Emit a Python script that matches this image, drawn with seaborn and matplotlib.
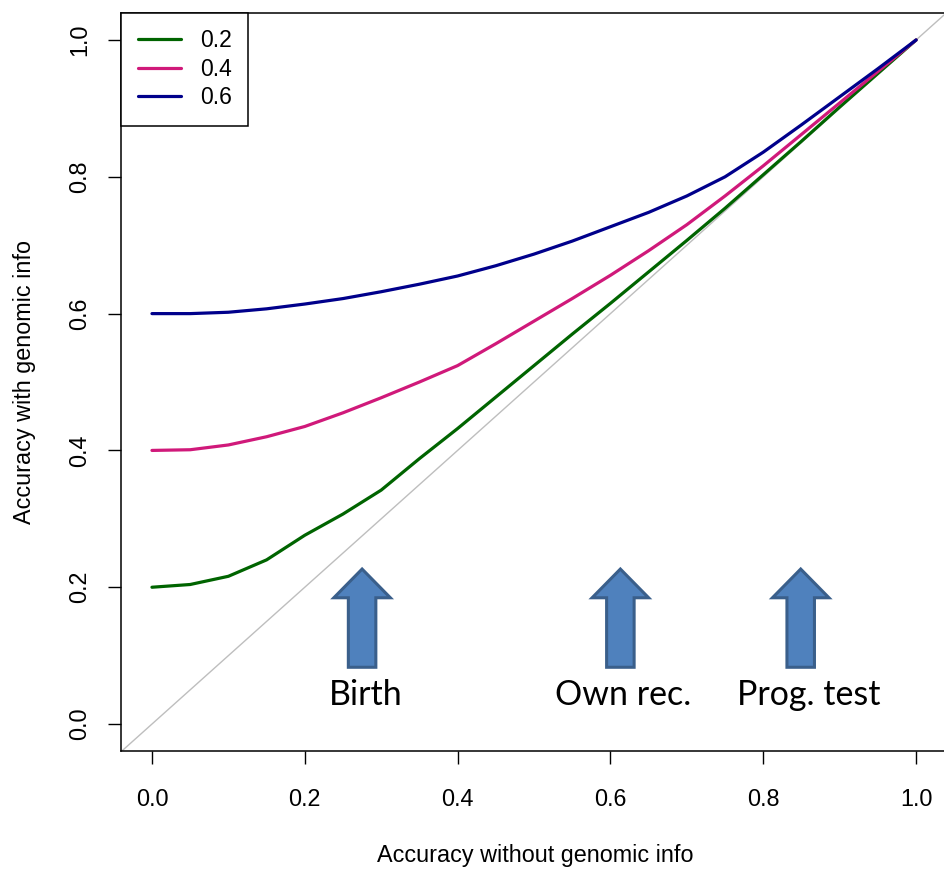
import numpy as np
import pandas as pd
import matplotlib
matplotlib.use("Agg")
import matplotlib.pyplot as plt
from matplotlib.patches import FancyArrow
import seaborn as sns

# Data
acc_without = [0.00, 0.05, 0.10, 0.15, 0.20, 0.25, 0.30, 0.35, 0.40, 0.45, 0.50,
               0.55, 0.60, 0.65, 0.70, 0.75, 0.80, 0.85, 0.90, 0.95, 1.00]
acc_g02 = [0.200, 0.204, 0.216, 0.240, 0.276, 0.307, 0.342, 0.388, 0.432, 0.478, 0.524,
           0.570, 0.615, 0.661, 0.707, 0.754, 0.803, 0.852, 0.902, 0.951, 1.000]
acc_g04 = [0.400, 0.401, 0.408, 0.420, 0.435, 0.455, 0.477, 0.500, 0.524, 0.556, 0.589,
           0.622, 0.656, 0.692, 0.730, 0.772, 0.816, 0.862, 0.908, 0.954, 1.000]
acc_g06 = [0.600, 0.600, 0.602, 0.607, 0.614, 0.622, 0.632, 0.643, 0.655, 0.670, 0.687,
           0.706, 0.727, 0.748, 0.772, 0.800, 0.836, 0.876, 0.917, 0.958, 1.000]
series_labels = ["0.2", "0.4", "0.6"]
series_colors = ["#006400", "#D0197A", "#00008B"]

stage_labels = ["Birth", "Own rec.", "Prog. test"]
stage_x = [0.275, 0.613, 0.849]
label_x = [0.280, 0.617, 0.859]

df = pd.DataFrame({
    "without": acc_without * 3,
    "with": acc_g02 + acc_g04 + acc_g06,
    "g": [lab for lab in series_labels for _ in acc_without],
})

sns.set_style("white")
plt.rcParams["font.family"] = ["Liberation Sans", "DejaVu Sans"]
plt.rcParams["text.color"] = "black"
plt.rcParams["axes.labelcolor"] = "black"
plt.rcParams["xtick.color"] = "black"
plt.rcParams["ytick.color"] = "black"

fig = plt.figure(figsize=(9.44, 8.71), dpi=100)
ax = fig.add_axes([0.1286, 0.1373, 0.8742, 0.8482])

# diagonal reference line
ax.plot([-0.04, 1.04], [-0.04, 1.04], color="#BEBEBE", lw=1.0, zorder=1)

sns.lineplot(data=df, x="without", y="with", hue="g", palette=series_colors,
             linewidth=2.3, ax=ax, zorder=3)

ax.set_xlim(-0.04, 1.04)
ax.set_ylim(-0.04, 1.04)
ticks = [0.0, 0.2, 0.4, 0.6, 0.8, 1.0]
ax.set_xticks(ticks)
ax.set_xticklabels([f"{t:.1f}" for t in ticks])
ax.set_yticks(ticks)
ax.set_yticklabels([f"{t:.1f}" for t in ticks])
ax.tick_params(axis="both", direction="out", length=9.5, width=1.0, color="black",
               labelcolor="black", labelsize=16.8, left=True, bottom=True)
ax.tick_params(axis="x", pad=17)
ax.tick_params(axis="y", pad=12, labelrotation=90)
for lab in ax.get_yticklabels():
    lab.set_va("center")

for side in ["left", "bottom", "top", "right"]:
    ax.spines[side].set_visible(True)
    ax.spines[side].set_color("black")
    ax.spines[side].set_linewidth(1.1)

ax.set_xlabel("Accuracy without genomic info", fontsize=16.8, color="black")
ax.set_ylabel("Accuracy with genomic info", fontsize=16.8, color="black")
ax.xaxis.set_label_coords(0.501, -0.126)
ax.yaxis.set_label_coords(-0.104, 0.5)

# stage arrows
for sx, lx, lab in zip(stage_x, label_x, stage_labels):
    arr = FancyArrow(sx, 0.083, 0, 0.1436, width=0.036, head_width=0.074,
                     head_length=0.042, length_includes_head=True,
                     facecolor="#4F81BD", edgecolor="#3A5F8B", linewidth=2.2, zorder=4)
    ax.add_patch(arr)
    ax.text(lx, 0.042, lab, ha="center", va="center", fontsize=24.5,
            family=["Lato", "DejaVu Sans"], color="black")

leg = ax.legend(loc="upper left", borderaxespad=0, fancybox=False, framealpha=1,
                edgecolor="black", fontsize=16.5, handlelength=1.9, handletextpad=0.8,
                borderpad=0.72, labelspacing=0.24, title=None)
leg.get_frame().set_linewidth(1.1)
for t in leg.get_texts():
    t.set_color("black")

fig.savefig("out.png", dpi=100)
